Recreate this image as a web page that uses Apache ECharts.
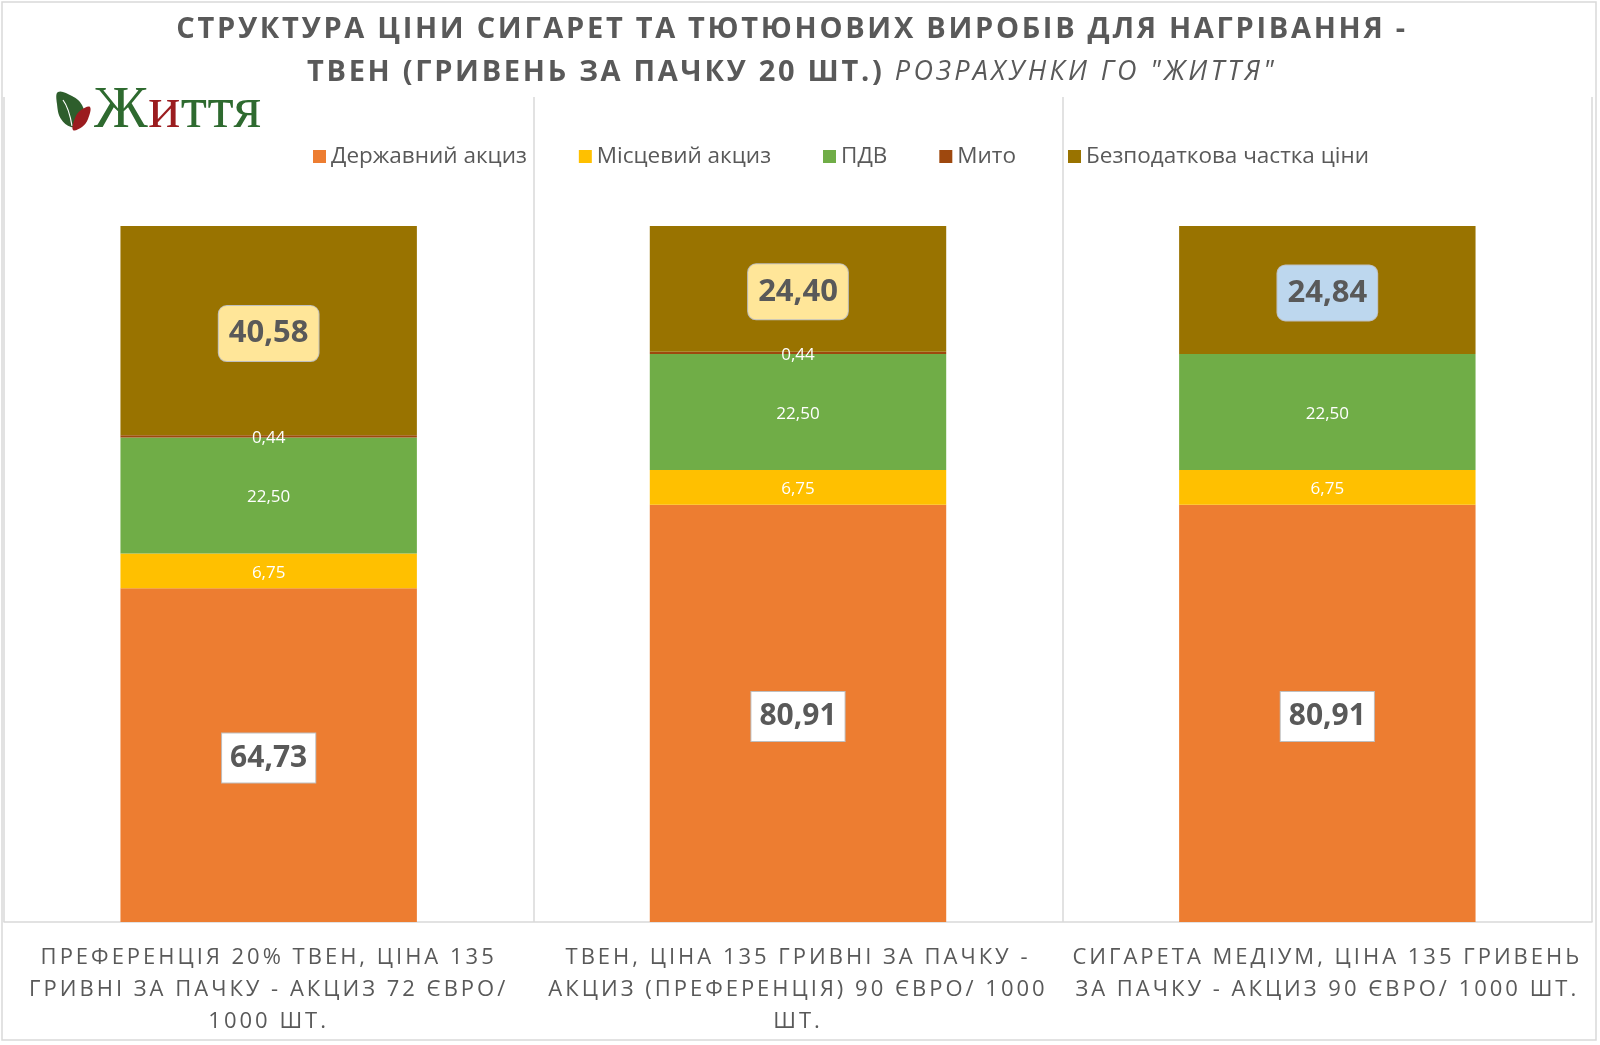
<!DOCTYPE html>
<html>
<head>
<meta charset="utf-8">
<script src="https://cdn.jsdelivr.net/npm/echarts@6/dist/echarts.min.js"></script>
<style>html,body{margin:0;padding:0;background:#fff}#c{width:1600px;height:1045px}</style>
</head>
<body>
<div id="c"></div>
<script>
// ---- data ----
const titleLine1 = 'СТРУКТУРА ЦІНИ СИГАРЕТ ТА ТЮТЮНОВИХ ВИРОБІВ ДЛЯ НАГРІВАННЯ -';
const titleLine2Bold = 'ТВЕН (ГРИВЕНЬ ЗА ПАЧКУ 20 ШТ.) ';
const titleLine2Italic = 'РОЗРАХУНКИ ГО "ЖИТТЯ"';
const categories = [
  'ПРЕФЕРЕНЦІЯ 20% ТВЕН, ЦІНА 135\nГРИВНІ ЗА ПАЧКУ - АКЦИЗ 72 ЄВРО/\n1000 ШТ.',
  'ТВЕН, ЦІНА 135 ГРИВНІ ЗА ПАЧКУ -\nАКЦИЗ (ПРЕФЕРЕНЦІЯ) 90 ЄВРО/ 1000\nШТ.',
  'СИГАРЕТА МЕДІУМ, ЦІНА 135 ГРИВЕНЬ\nЗА ПАЧКУ - АКЦИЗ 90 ЄВРО/ 1000 ШТ.'
];
const seriesNames = ['Державний акциз', 'Місцевий акциз', 'ПДВ', 'Мито', 'Безподаткова частка ціни'];
const stateExcise = [64.73, 80.91, 80.91];
const localExcise = [6.75, 6.75, 6.75];
const vat = [22.50, 22.50, 22.50];
const duty = [0.44, 0.44, null];
const nonTax = [40.58, 24.40, 24.84];

// ---- letter spacing helper (font family marker lspN_M) ----
(function () {
  const P = CanvasRenderingContext2D.prototype;
  if (!('letterSpacing' in P)) return;
  const re = /lsp(\d+)_(\d+)/;
  function set(ctx) {
    const m = re.exec(ctx.font);
    const v = m ? (m[1] + '.' + m[2] + 'px') : '0px';
    if (ctx.letterSpacing !== v) ctx.letterSpacing = v;
  }
  const f = P.fillText, s = P.strokeText, mt = P.measureText;
  P.fillText = function () { set(this); return f.apply(this, arguments); };
  P.strokeText = function () { set(this); return s.apply(this, arguments); };
  P.measureText = function () { set(this); return mt.apply(this, arguments); };
})();

const colors = ['#ED7D31', '#FFC000', '#70AD47', '#9E480E', '#997300'];
const txt = '#595959';
const fmt = v => (v == null ? '' : Number(v).toFixed(2).replace('.', ','));

const chart = echarts.init(document.getElementById('c'), null, { renderer: 'canvas' });

const smallLabel = {
  show: true, position: 'inside', color: '#ffffff', fontSize: 17, offset: [0, 2],
  fontFamily: "'Open Sans'", formatter: p => fmt(p.value)
};
const bigBoxColors = ['#FFE699', '#FFE699', '#BDD7EE'];

function series(name, values, idx, label) {
  return {
    name, type: 'bar', stack: 'total', barWidth: '56%',
    itemStyle: { color: colors[idx] },
    label, data: values, emphasis: { disabled: true }
  };
}

const option = {
  animation: false,
  backgroundColor: '#ffffff',
  legend: {
    left: 308, top: 140, itemWidth: 13, itemHeight: 13, itemGap: 52, icon: 'rect',
    textStyle: { color: txt, fontSize: 22.5, fontFamily: "'Open Sans'" },
    data: seriesNames
  },
  grid: { left: 4, right: 8, top: 97, bottom: 123, containLabel: false },
  xAxis: {
    type: 'category', data: categories,
    axisLine: { show: true, lineStyle: { color: '#d9d9d9', width: 1.5 } },
    axisTick: { show: false },
    splitLine: { show: true, lineStyle: { color: '#d9d9d9', width: 1.5 } },
    axisLabel: {
      color: txt, fontSize: 22, lineHeight: 32, margin: 20,
      fontFamily: "'Open Sans', lsp3_0", interval: 0
    }
  },
  yAxis: { type: 'value', min: 0, max: 160, show: false },
  series: [
    series(seriesNames[0], stateExcise, 0, {
      show: true, position: 'inside', offset: [0, 3], formatter: p => fmt(p.value),
      color: txt, fontSize: 30, fontWeight: 'bold', fontFamily: "'Open Sans'",
      backgroundColor: '#ffffff', borderColor: '#bfbfbf', borderWidth: 1,
      padding: [10, 8, 9, 8]
    }),
    series(seriesNames[1], localExcise, 1, smallLabel),
    series(seriesNames[2], vat, 2, smallLabel),
    series(seriesNames[3], duty, 3, smallLabel),
    {
      name: seriesNames[4], type: 'bar', stack: 'total', barWidth: '56%',
      itemStyle: { color: colors[4] }, emphasis: { disabled: true },
      data: nonTax.map((v, i) => ({
        value: v,
        label: {
          show: true, position: 'inside', offset: [0, 3], formatter: p => fmt(p.value),
          color: txt, fontSize: 31, fontWeight: 'bold', fontFamily: "'Open Sans'",
          backgroundColor: bigBoxColors[i], borderColor: '#bfbfbf', borderWidth: 1,
          borderRadius: 8, padding: [12, 10, 12, 10]
        }
      }))
    }
  ],
  graphic: [
    {
      type: 'rect', silent: true, z: -1,
      shape: { x: 2, y: 2, width: 1594, height: 1038 },
      style: { fill: 'none', stroke: '#d9d9d9', lineWidth: 1.5 }
    },
    {
      type: 'text', silent: true, x: 792, y: 8,
      style: {
        text: '{b|' + titleLine1 + '}\n{b|' + titleLine2Bold + '}{i|' + titleLine2Italic + '}',
        align: 'center', verticalAlign: 'top',
        rich: {
          b: { fill: txt, font: "bold 29px 'Open Sans', lsp2_7", lineHeight: 43, align: 'center' },
          i: { fill: txt, font: "italic 27px 'Open Sans', lsp3_4", lineHeight: 43, align: 'center' }
        }
      }
    },
    {
      type: 'polygon', silent: true,
      shape: { points: [[58, 92], [72, 96], [82, 105], [84, 117], [78, 125], [71, 127], [61, 119], [57, 104]], smooth: 0.4 },
      style: { fill: '#2E5E2C' }
    },
    {
      type: 'bezierCurve', silent: true,
      shape: { x1: 63, y1: 100, x2: 72, y2: 126, cpx1: 69, cpy1: 108 },
      style: { fill: 'none', stroke: '#ffffff', lineWidth: 1.2 }
    },
    {
      type: 'polygon', silent: true,
      shape: { points: [[90, 107], [81, 110], [75, 118], [73, 130], [82, 127], [88, 119]], smooth: 0.4 },
      style: { fill: '#9B1C1F' }
    },
    {
      type: 'text', silent: true, x: 94, y: 111,
      style: {
        text: '{g|Ж}{r|и}{g|ття}', verticalAlign: 'middle', align: 'left',
        rich: {
          g: { fill: '#2E6A2F', font: "60px 'Liberation Serif', lsp0_5" },
          r: { fill: '#9B1C1F', font: "60px 'Liberation Serif', lsp0_5" }
        }
      }
    }
  ]
};
chart.setOption(option);
</script>
</body>
</html>
